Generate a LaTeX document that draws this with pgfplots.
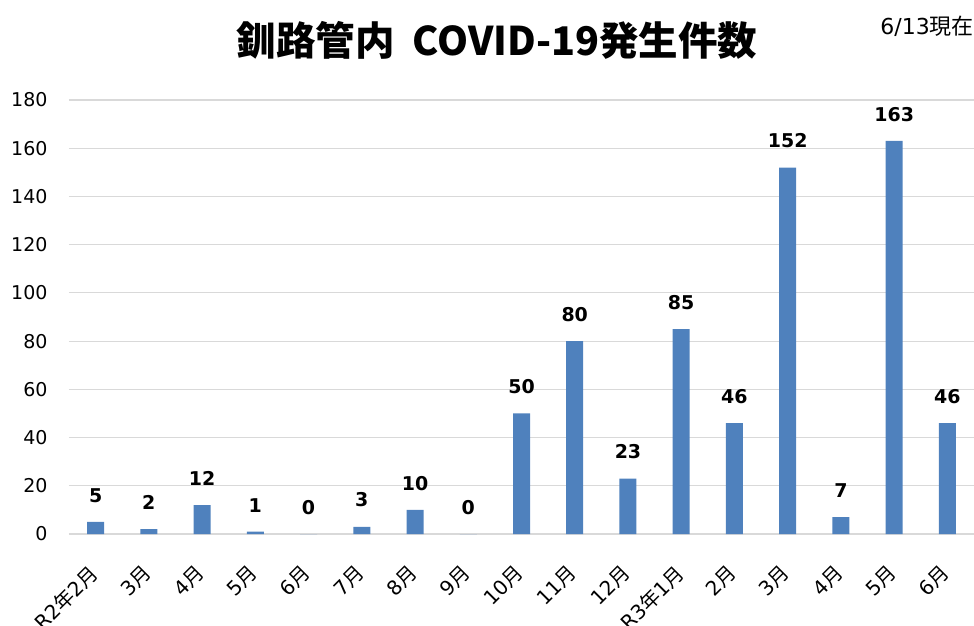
\documentclass[border=0pt]{standalone}
\usepackage{pgfplots}
\pgfplotsset{compat=1.18}
\usepackage{fontspec}
\setmainfont{DejaVu Sans}
\newfontfamily\cjk{Noto Sans CJK JP}
\definecolor{barblue}{HTML}{4F81BD}
\definecolor{gridgray}{HTML}{D9D9D9}
\begin{document}
\begin{tikzpicture}
\useasboundingbox (-69pt,-92pt) rectangle (905pt,534pt);
\begin{axis}[
  at={(0,0)}, anchor=south west,
  scale only axis,
  width=905pt, height=434pt,
  xmin=-0.5, xmax=16.5,
  ymin=0, ymax=180,
  ytick={0,20,...,180},
  xtick={0,...,16},
  xticklabels={R2{\cjk 年}2{\cjk 月},3{\cjk 月},4{\cjk 月},5{\cjk 月},6{\cjk 月},7{\cjk 月},8{\cjk 月},9{\cjk 月},10{\cjk 月},11{\cjk 月},12{\cjk 月},R3{\cjk 年}1{\cjk 月},2{\cjk 月},3{\cjk 月},4{\cjk 月},5{\cjk 月},6{\cjk 月}},
  x tick label style={rotate=45, anchor=north east, font=\fontsize{20}{22}\selectfont, inner sep=1pt, yshift=-14pt, xshift=-25pt},
  y tick label style={font=\fontsize{19}{20}\selectfont, xshift=-18pt},
  /pgf/number format/assume math mode=true,
  major tick length=0pt,
  ymajorgrids,
  major grid style={gridgray, line width=1.2pt},
  axis line style={draw=none},
  ybar, bar width=17pt,
  nodes near coords,
  every node near coord/.append style={font=\bfseries\fontsize{19}{20}\selectfont, black, yshift=16pt},
  clip=false,
]
\addplot[fill=barblue, draw=none] coordinates {
(0,5) (1,2) (2,12) (3,1) (4,0) (5,3) (6,10) (7,0) (8,50) (9,80) (10,23) (11,85) (12,46) (13,152) (14,7) (15,163) (16,46)
};
\end{axis}
\node[font=\cjk\bfseries\fontsize{39.5}{42}\selectfont] at (428pt,494pt) {釧路管内\ \ COVID-19発生件数};
\node[anchor=east, font=\fontsize{22}{24}\selectfont, inner sep=0pt] at (905pt,508pt) {6/13{\cjk 現在}};
\end{tikzpicture}
\end{document}
